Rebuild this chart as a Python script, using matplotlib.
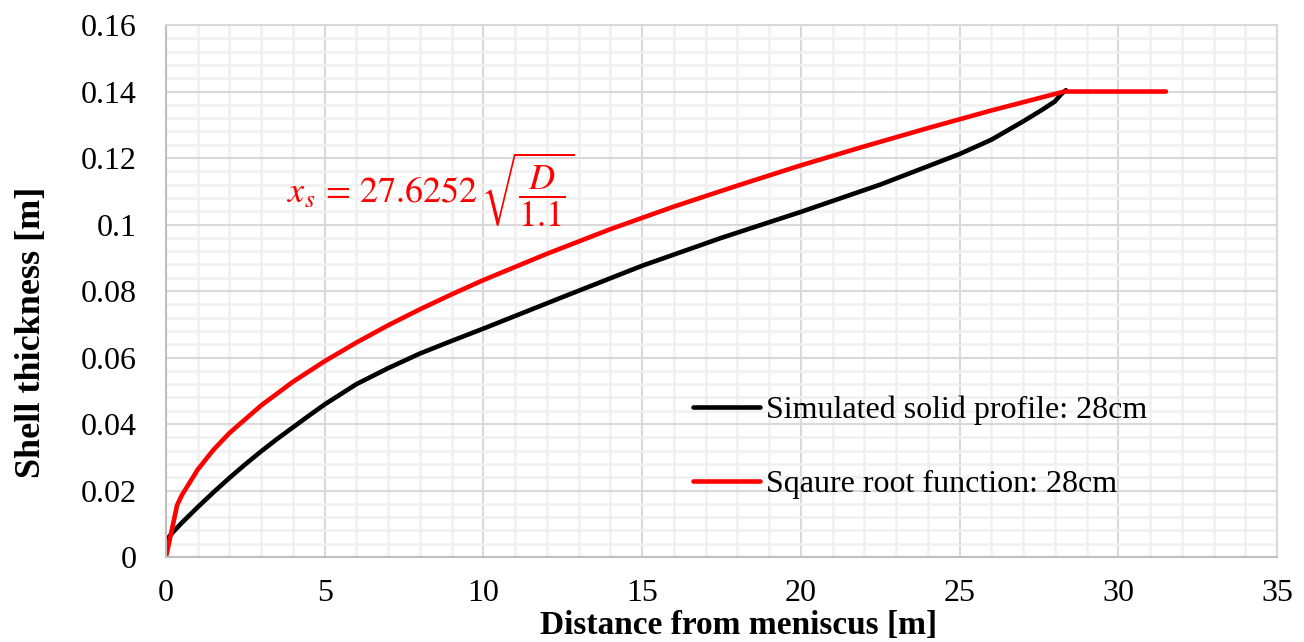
import matplotlib.pyplot as plt
from matplotlib.ticker import MultipleLocator, FuncFormatter

plt.rcParams['font.family'] = ['Liberation Serif', 'DejaVu Serif']
plt.rcParams['mathtext.fontset'] = 'stix'

# simulated solid profile (black)
sim_x = [0, 0.25, 0.5, 1, 1.5, 2, 2.5, 3, 3.5, 4, 4.5, 5, 6, 7, 8, 9, 10, 11,
         12.5, 15, 17.5, 20, 22.5, 25, 26, 27, 27.6, 28, 28.2, 28.35]
sim_y = [0.005, 0.0078, 0.0103, 0.015, 0.0195, 0.0238, 0.0279, 0.0318, 0.0355,
         0.039, 0.0425, 0.0459, 0.052, 0.0568, 0.0612, 0.065, 0.0687, 0.0725,
         0.0782, 0.0876, 0.096, 0.1038, 0.112, 0.1212, 0.1255, 0.131, 0.1345,
         0.137, 0.1392, 0.1404]

# square root function (red)
sqrt_x = [0, 0.35, 0.5, 1, 1.5, 2, 3, 4, 5, 6, 7, 8, 9, 10, 12, 14, 16, 18, 20,
          22, 24, 26, 28.3, 31.5]
sqrt_y = [0, 0.0156, 0.0186, 0.0263, 0.0323, 0.0373, 0.0456, 0.0527, 0.0589,
          0.0645, 0.0697, 0.0745, 0.079, 0.0833, 0.0912, 0.0986, 0.1054, 0.1117,
          0.1178, 0.1235, 0.129, 0.1343, 0.140, 0.140]

fig = plt.figure(figsize=(13.04, 6.42), dpi=100)
ax = fig.add_axes([0.1273, 0.1324, 0.852, 0.8286])

ax.plot(sim_x, sim_y, color='black', lw=3.3, solid_capstyle='round',
        solid_joinstyle='round', label='Simulated solid profile: 28cm')
ax.plot(sqrt_x, sqrt_y, color='#ff0000', lw=3.3, solid_capstyle='round',
        solid_joinstyle='round', label='Sqaure root function: 28cm')

ax.set_xlim(0, 35)
ax.set_ylim(0, 0.16)
ax.xaxis.set_major_locator(MultipleLocator(5))
ax.xaxis.set_minor_locator(MultipleLocator(1))
ax.yaxis.set_major_locator(MultipleLocator(0.02))
ax.yaxis.set_minor_locator(MultipleLocator(0.004))
ax.yaxis.set_major_formatter(FuncFormatter(lambda v, p: '{:g}'.format(round(v, 3))))

ax.grid(which='minor', color='#f0f0f0', lw=1.8)
ax.grid(which='major', color='#d9d9d9', lw=1.5)
ax.set_axisbelow(True)
ax.tick_params(which='both', length=0, labelsize=23)
ax.tick_params(axis='x', pad=16)
ax.tick_params(axis='y', pad=21)
for s in ['top', 'right']:
    ax.spines[s].set_color('#d9d9d9')
    ax.spines[s].set_linewidth(1.5)
for s in ['left', 'bottom']:
    ax.spines[s].set_color('#bfbfbf')
    ax.spines[s].set_linewidth(1.5)

ax.set_xlabel('Distance from meniscus [m]', fontsize=24, fontweight='bold')
ax.xaxis.set_label_coords(0.515, -0.1)
ax.set_ylabel('Shell thickness [m]', fontsize=26, fontweight='bold')
ax.yaxis.set_label_coords(-0.106, 0.423)

ax.text(3.8, 0.1065, r'$x_s\,=\,27.6252\,\sqrt{\dfrac{D}{1.1}}$', color='#ff0000',
        fontsize=26, ha='left', va='baseline')

ax.legend(loc='center left', bbox_to_anchor=(0.474, 0.206), frameon=False,
          fontsize=23, handlelength=2.1, handletextpad=0.2, labelspacing=1.41,
          borderpad=0, borderaxespad=0)

plt.savefig('out.png', dpi=100)
